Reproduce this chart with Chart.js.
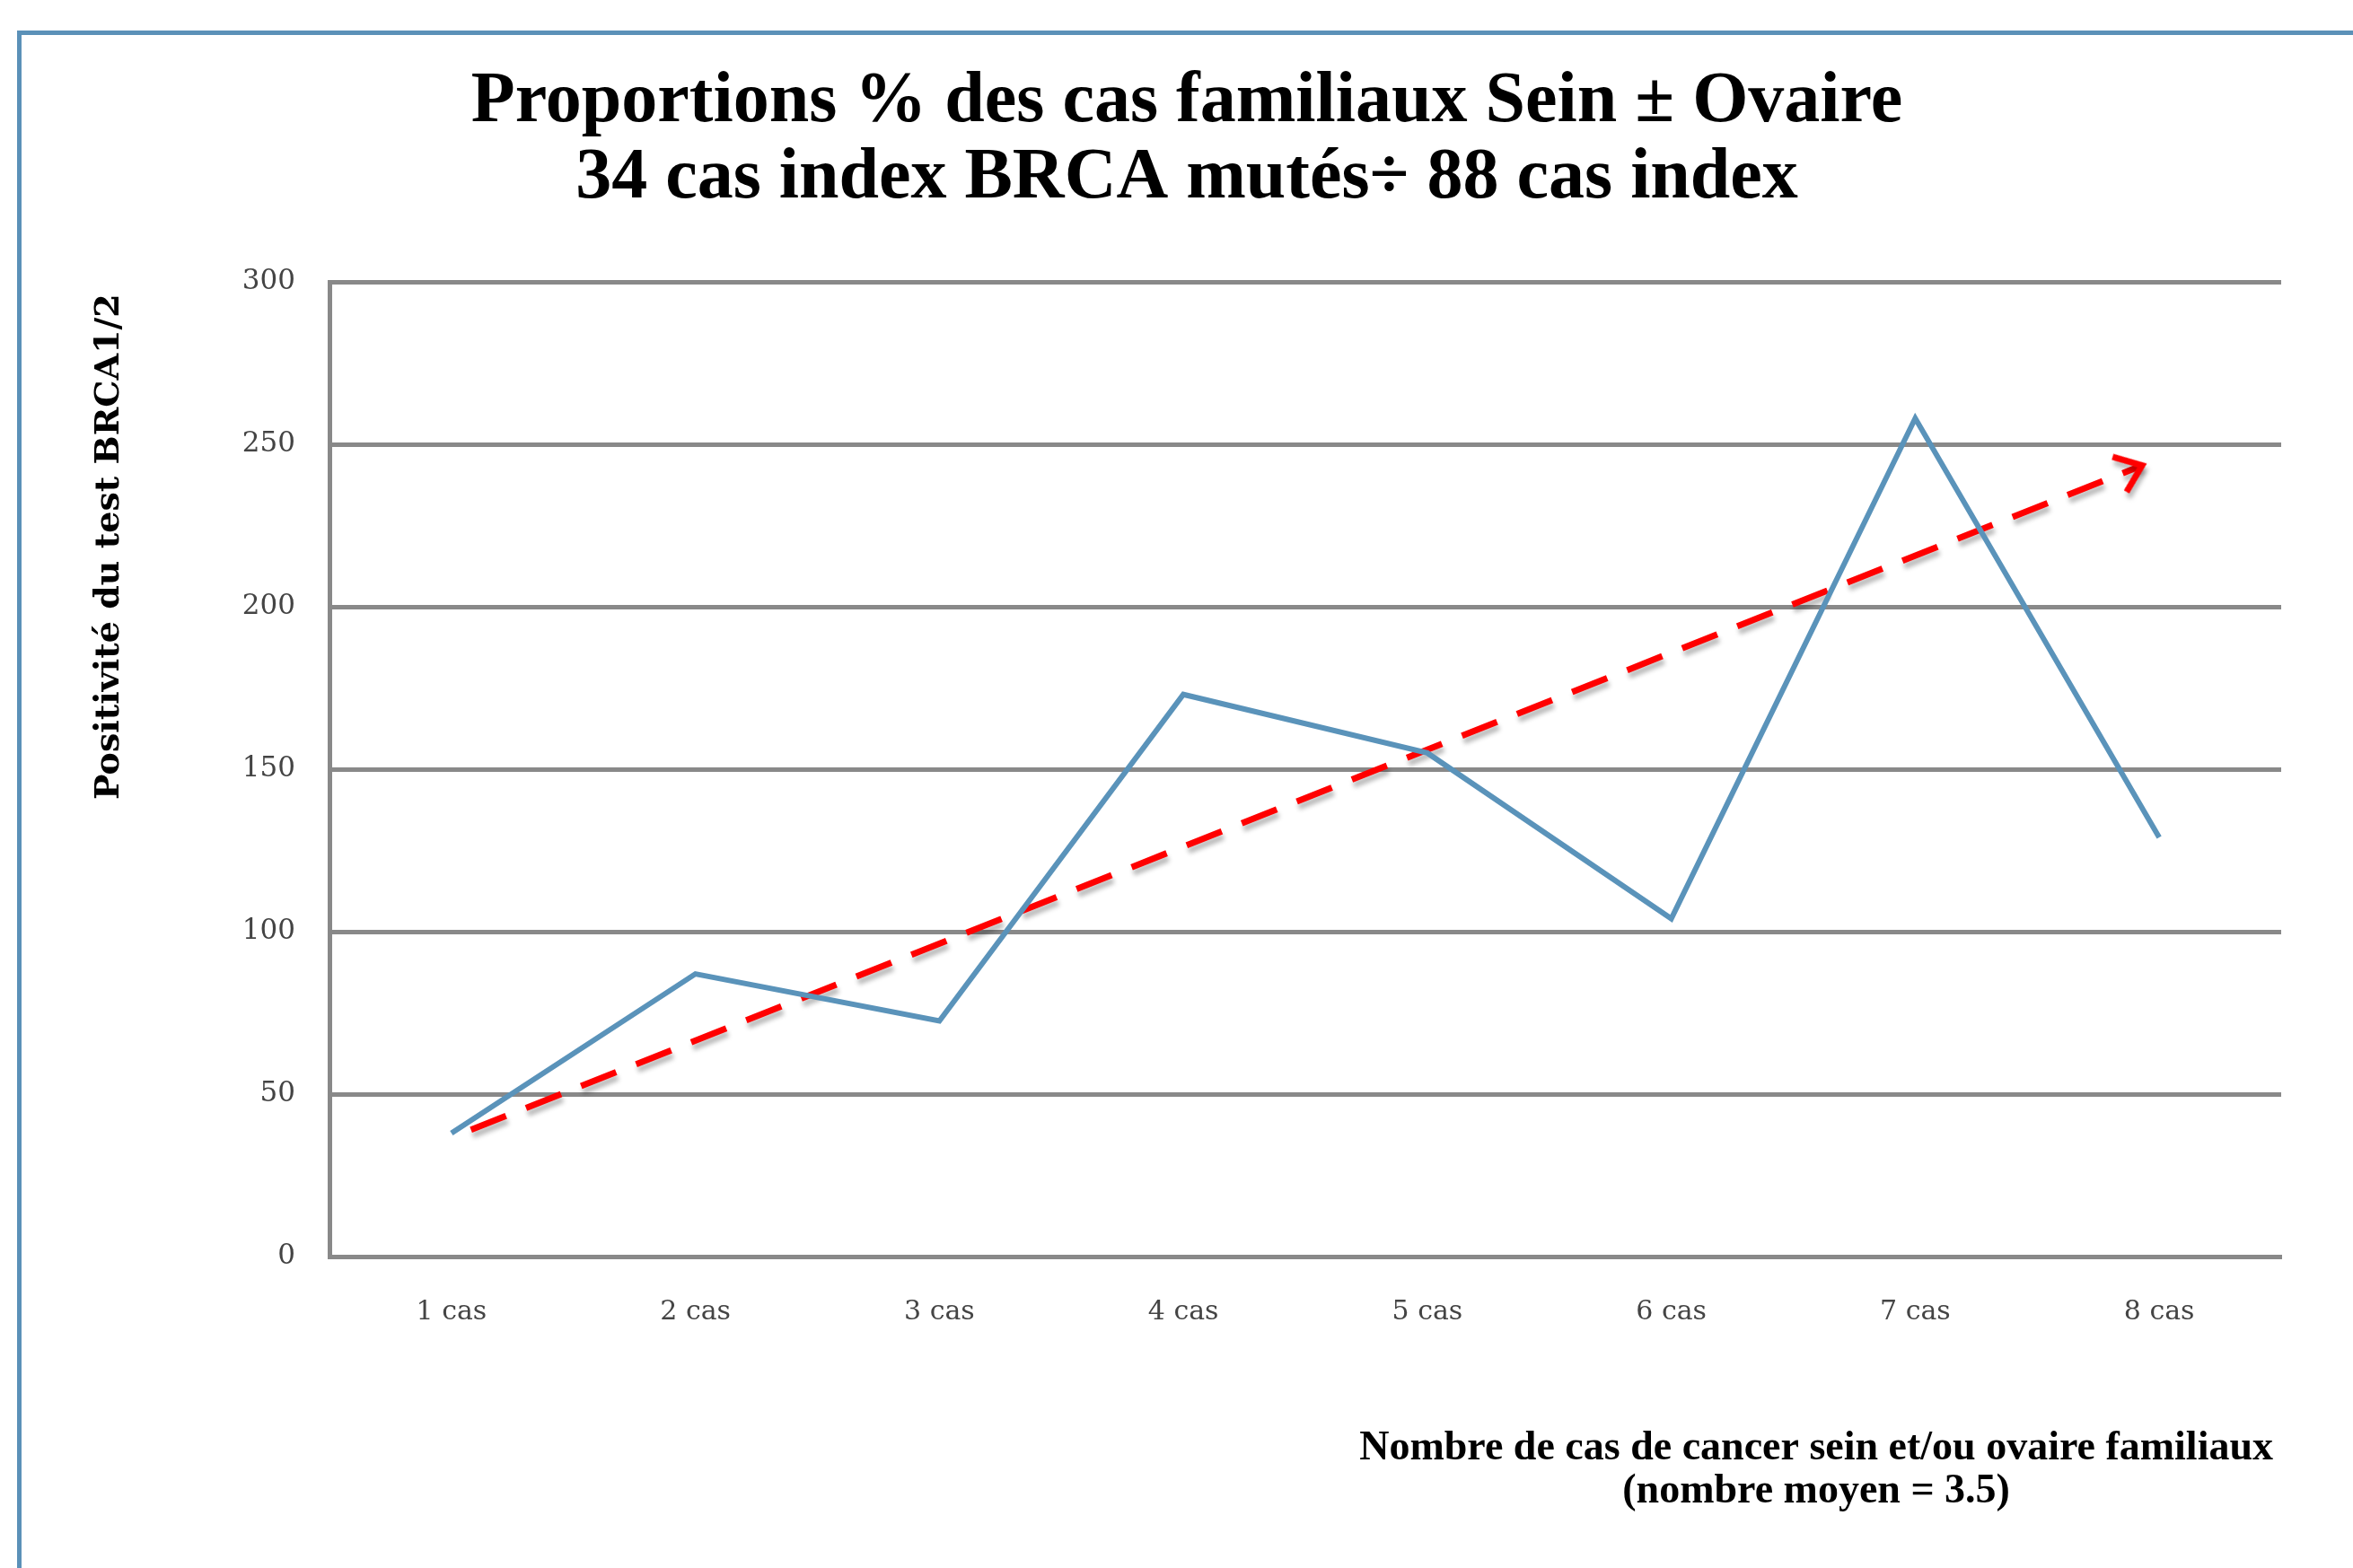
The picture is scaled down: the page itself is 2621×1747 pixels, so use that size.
<!DOCTYPE html>
<html>
<head>
<meta charset="utf-8">
<script src="https://cdn.jsdelivr.net/npm/chart.js@4.4.0/dist/chart.umd.min.js"></script>
<style>
  html, body { margin: 0; padding: 0; background: #fff; }
  #wrap { width: 2621px; height: 1747px; }
</style>
</head>
<body>
<div id="wrap"><canvas id="brcaChart" width="2621" height="1747"></canvas></div>
<script>
// data
const categories = ["1 cas", "2 cas", "3 cas", "4 cas", "5 cas", "6 cas", "7 cas", "8 cas"];
const positivite = [38, 87, 72.5, 173, 155, 104, 258, 129];
// red dashed trend arrow (x in category index units)
const trendX = [0.08, 6.93];
const trendY = [39, 243.5];
const yTicks = [0, 50, 100, 150, 200, 250, 300];

const titleLines = ["Proportions % des cas familiaux Sein \u00b1 Ovaire", "34 cas index BRCA mut\u00e9s\u00f7 88 cas index"];
const yTitle = "Positivit\u00e9 du test BRCA1/2 ";
const xTitleLines = ["Nombre de cas de cancer sein et/ou ovaire familiaux", "(nombre moyen = 3.5)"];

const blue = "#5a93ba";
const gridGray = "#898989";

function makeArrow() {
  const c = document.createElement("canvas");
  c.width = 100; c.height = 100;
  const g = c.getContext("2d");
  g.strokeStyle = "#ff0000";
  g.lineWidth = 7;
  g.lineJoin = "miter";
  g.beginPath();
  g.moveTo(50 - 27, 50 - 21);
  g.lineTo(50, 50);
  g.lineTo(50 - 27, 50 + 21);
  g.stroke();
  return c;
}
const arrowImg = makeArrow();

const decor = {
  id: "decor",
  beforeDraw(chart) {
    const ctx = chart.ctx;
    ctx.save();
    ctx.fillStyle = "#fff";
    ctx.fillRect(0, 0, chart.width, chart.height);
    ctx.strokeStyle = "#5b91b8";
    ctx.lineWidth = 5;
    ctx.beginPath();
    ctx.moveTo(21.5, chart.height + 10);
    ctx.lineTo(21.5, 36.5);
    ctx.lineTo(chart.width + 10, 36.5);
    ctx.stroke();
    ctx.restore();
  },
  beforeDatasetDraw(chart, args) {
    if (args.index === 1) {
      const ctx = chart.ctx;
      ctx.save();
      ctx.shadowColor = "rgba(0,0,0,0.28)";
      ctx.shadowOffsetX = 2;
      ctx.shadowOffsetY = 6;
      ctx.shadowBlur = 5;
    }
  },
  afterDatasetDraw(chart, args) {
    if (args.index === 1) chart.ctx.restore();
  },
  afterDraw(chart) {
    // x axis title, two centred lines ending near the right of the plot
    const ctx = chart.ctx;
    const area = chart.chartArea;
    ctx.save();
    ctx.font = "bold 46px 'Liberation Serif'";
    ctx.fillStyle = "#000";
    ctx.textAlign = "center";
    ctx.textBaseline = "alphabetic";
    const w1 = ctx.measureText(xTitleLines[0]).width;
    const cx = area.right - 9 - w1 / 2;
    ctx.fillText(xTitleLines[0], cx, area.bottom + 226);
    ctx.fillText(xTitleLines[1], cx, area.bottom + 274);
    ctx.restore();
  }
};

const ctx = document.getElementById("brcaChart").getContext("2d");
const chart = new Chart(ctx, {
  type: "line",
  data: {
    labels: categories,
    datasets: [
      {
        label: "Positivité",
        data: positivite,
        borderColor: blue,
        borderWidth: 6,
        pointRadius: 0,
        tension: 0,
        borderJoinStyle: "miter",
        fill: false,
        xAxisID: "x",
        yAxisID: "y",
      },
      {
        label: "Tendance",
        data: trendX.map((x, i) => ({ x: x, y: trendY[i] })),
        borderColor: "#ff0000",
        borderWidth: 7,
        borderDash: [42, 24],
        fill: false,
        xAxisID: "xt",
        yAxisID: "y",
        pointRadius: (c) => (c.dataIndex === 1 ? 20 : 0),
        pointStyle: (c) => (c.dataIndex === 1 ? arrowImg : "circle"),
        pointRotation: (c) => {
          const s = c.chart.scales;
          const dx = s.xt.getPixelForValue(trendX[1]) - s.xt.getPixelForValue(trendX[0]);
          const dy = s.y.getPixelForValue(trendY[1]) - s.y.getPixelForValue(trendY[0]);
          return Math.atan2(dy, dx) * 180 / Math.PI;
        },
      },
    ],
  },
  options: {
    responsive: false,
    animation: false,
    devicePixelRatio: 1,
    layout: { padding: { left: 103, right: 80, top: 40, bottom: 0 } },
    plugins: {
      legend: { display: false },
      tooltip: { enabled: false },
      title: {
        display: true,
        text: titleLines,
        color: "#000",
        font: { family: "'Liberation Serif'", size: 80, weight: "bold", lineHeight: 1.0625 },
        padding: { top: 32, bottom: 72 },
      },
    },
    scales: {
      x: {
        type: "category",
        offset: true,
        grid: { display: false, drawTicks: false },
        border: { display: true, color: gridGray, width: 5 },
        ticks: {
          color: "#444",
          padding: 44,
          font: { family: "'DejaVu Serif'", size: 30 },
        },
        afterFit(scale) { scale.height = 347; },
      },
      xt: {
        type: "linear",
        display: false,
        min: -0.5,
        max: 7.5,
      },
      y: {
        type: "linear",
        min: 0,
        max: 300,
        afterBuildTicks(scale) { scale.ticks = yTicks.map((v) => ({ value: v })); },
        grid: { color: gridGray, lineWidth: 5, drawTicks: false },
        border: { display: true, color: gridGray, width: 5 },
        ticks: {
          color: "#444",
          padding: 38,
          font: { family: "'DejaVu Serif'", size: 31 },
        },
        title: {
          display: true,
          text: yTitle,
          align: "end",
          color: "#000",
          font: { family: "'DejaVu Serif'", size: 38, weight: "bold", lineHeight: 1.0 },
          padding: { top: 0, bottom: 0 },
        },
        afterFit(scale) { scale.width = 264; },
      },
    },
  },
  plugins: [decor],
});
</script>
</body>
</html>
